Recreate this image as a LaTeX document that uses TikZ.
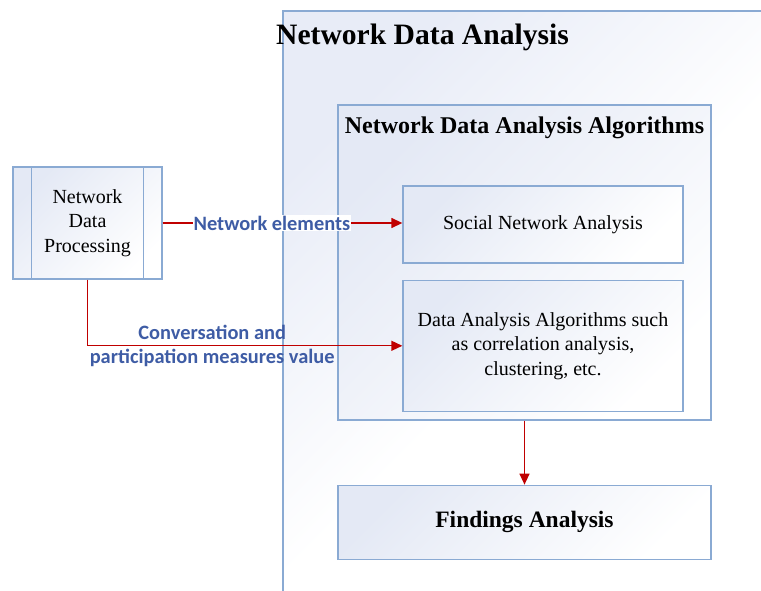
\documentclass[tikz,border=0pt]{standalone}
\usepackage{fontspec}
\setmainfont{Liberation Serif}
\newfontfamily\labelfont{Carlito}
\usetikzlibrary{arrows.meta, positioning, calc}
\definecolor{boxline}{RGB}{138,170,211}
\definecolor{boxfill}{RGB}{228,233,245}
\definecolor{framefill}{RGB}{232,236,247}
\definecolor{arrowred}{RGB}{192,0,0}
\definecolor{labelblue}{RGB}{62,92,165}
\tikzset{
    panel/.style={
        rectangle, draw=boxline, line width=1.3pt,
        top color=boxfill, bottom color=white, shading angle=45
    },
    frame/.style={
        draw=boxline, line width=1.3pt,
        top color=framefill, bottom color=white, middle color=white, shading angle=45
    },
    textbox/.style={
        panel, align=center, font=\fontsize{20}{24.5}\selectfont
    },
    boldbox/.style={
        panel, font=\fontsize{23.5}{28}\selectfont\bfseries
    },
    flow/.style={draw=arrowred, line width=1.3pt, -{Triangle[length=11pt, width=10pt]}},
    flowlabel/.style={
        text=labelblue, align=center, inner sep=1pt,
        font=\labelfont\fontsize{20.4}{24}\selectfont\bfseries
    }
}

\begin{document}
\begin{tikzpicture}[x=1pt, y=-1pt]
\clip (0,0) rectangle (761,591);

% Outer frame
\draw[frame] (283,11) rectangle (800,630);
\node[anchor=west, inner sep=0pt, font=\fontsize{29.6}{34}\selectfont\bfseries] (ndatitle) at (276,37) {Network Data Analysis};

% Left: processing
\node[textbox, minimum width=149pt, minimum height=112pt] (ndp) at (87.5,223) {Network\\Data\\Processing};
\draw[boxline, line width=1.3pt] ([xshift=19pt]ndp.north west) -- ([xshift=19pt]ndp.south west);
\draw[boxline, line width=1.3pt] ([xshift=-19pt]ndp.north east) -- ([xshift=-19pt]ndp.south east);

% Algorithms
\node[panel, minimum width=373pt, minimum height=315pt] (algo) at (524.5,262.5) {};
\node[inner sep=0pt, font=\fontsize{24}{28}\selectfont\bfseries] (algotitle) at (524.5,128) {Network Data Analysis Algorithms};
\node[textbox, minimum width=280pt, minimum height=77pt] (sna) at (543,224.5) {Social Network Analysis};
\node[textbox, minimum width=280pt, minimum height=131pt, below=16pt of sna] (daa) {Data Analysis Algorithms such\\as correlation analysis,\\clustering, etc.};

% Findings
\node[boldbox, minimum width=373pt, minimum height=74pt, below=64pt of algo] (findings) {Findings Analysis};

% Connections
\draw[flow] (ndp.east) -- node[flowlabel, fill=white, pos=0.456] {Network elements} (ndp.east -| sna.west);
\draw[flow] (ndp.south) |- node[flowlabel, pos=0.698] {Conversation and\\participation measures value} (daa.west);
\draw[flow] (algo) -- (findings);

\end{tikzpicture}
\end{document}
